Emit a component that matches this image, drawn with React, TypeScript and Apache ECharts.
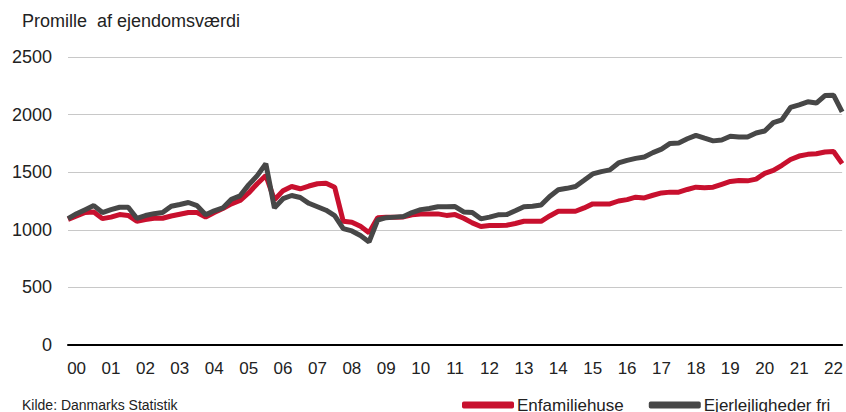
import React, { useEffect, useRef } from "react";
import * as echarts from "echarts";

const years = Array.from({ length: 23 }, (_, k) => String(k).padStart(2, "0"));
const quarters: string[] = [];
for (let y = 0; y < 23; y++) for (let q = 1; q <= 4; q++) quarters.push(`20${years[y]}K${q}`);
const categories = quarters.slice(0, 91);

const enfamiliehuse = [
  1090, 1120, 1150, 1155, 1097, 1110, 1132, 1125, 1074, 1089, 1100, 1100, 1120, 1135, 1150, 1150,
  1110, 1150, 1185, 1225, 1254, 1320, 1400, 1472, 1260, 1340, 1376, 1356, 1380, 1400, 1405, 1370,
  1074, 1066, 1030, 975, 1105, 1110, 1110, 1112, 1130, 1138, 1138, 1138, 1125, 1132, 1100, 1060,
  1028, 1037, 1037, 1040, 1055, 1074, 1074, 1074, 1120, 1161, 1161, 1161, 1190, 1225, 1225, 1225,
  1250, 1262, 1283, 1277, 1300, 1320, 1327, 1327, 1350, 1370, 1365, 1370, 1395, 1420, 1428, 1425,
  1440, 1490, 1516, 1560, 1610, 1640, 1655, 1660, 1675, 1680, 1574,
];

const ejerlejligheder = [
  1097, 1140, 1175, 1210, 1150, 1175, 1196, 1196, 1100, 1124, 1140, 1150, 1205, 1220, 1237, 1210,
  1130, 1165, 1190, 1265, 1295, 1390, 1470, 1574, 1190, 1270, 1298, 1280, 1230, 1200, 1170, 1124,
  1010, 990, 950, 895, 1085, 1105, 1110, 1115, 1150, 1175, 1185, 1200, 1200, 1202, 1155, 1150,
  1095, 1110, 1130, 1132, 1165, 1200, 1205, 1215, 1290, 1347, 1360, 1376, 1430, 1485, 1505, 1520,
  1580, 1603, 1620, 1632, 1670, 1700, 1750, 1754, 1790, 1820, 1795, 1772, 1780, 1812, 1805, 1805,
  1840, 1858, 1930, 1955, 2062, 2085, 2111, 2100, 2165, 2169, 2024,
];

const yTicks = [0, 500, 1000, 1500, 2000, 2500];

const FONT = "'Liberation Sans', Arial, sans-serif";
const RED = "#c8102e";
const GRAY = "#474747";

export default function App() {
  const ref = useRef<HTMLDivElement>(null);
  useEffect(() => {
    if (!ref.current) return;
    const chart = echarts.init(ref.current, null, { renderer: "svg" });
    chart.setOption({
      animation: false,
      backgroundColor: "#ffffff",
      textStyle: { fontFamily: FONT },
      grid: { left: 68, right: 0, top: 57, bottom: 67, containLabel: false },
      graphic: [
        {
          type: "text",
          left: 22,
          top: 12,
          style: {
            text: "Promille  af ejendomsværdi",
            fontFamily: FONT,
            fontSize: 18,
            fill: "#222",
          },
        },
        {
          type: "text",
          left: 22,
          top: 398,
          style: {
            text: "Kilde: Danmarks Statistik",
            fontFamily: FONT,
            fontSize: 14,
            fill: "#222",
          },
        },
      ],
      legend: {
        left: 462,
        top: 396,
        padding: 0,
        itemGap: 25,
        itemWidth: 52,
        itemHeight: 7,
        icon: "roundRect",
        textStyle: { fontSize: 17, lineHeight: 18, color: "#222", fontFamily: FONT, padding: [0, 0, 0, -2] },
        data: ["Enfamiliehuse", "Ejerlejligheder fri"],
      },
      xAxis: {
        type: "category",
        data: categories,
        boundaryGap: false,
        axisLine: { lineStyle: { color: "#000", width: 2 } },
        axisTick: { show: false },
        axisLabel: {
          interval: (index: number) => index % 4 === 1,
          formatter: (v: string) => v.slice(2, 4),
          fontSize: 17,
          color: "#222",
          fontFamily: FONT,
          margin: 15,
        },
        splitLine: { show: false },
      },
      yAxis: {
        type: "value",
        min: yTicks[0],
        max: yTicks[yTicks.length - 1],
        interval: 500,
        axisLine: { show: false },
        axisTick: { show: false },
        axisLabel: {
          fontSize: 18,
          color: "#222",
          fontFamily: FONT,
          margin: 16,
          formatter: (v: number) => String(v),
        },
        splitLine: { lineStyle: { color: "#c8c8c8", width: 1 } },
      },
      series: [
        {
          name: "Enfamiliehuse",
          type: "line",
          data: enfamiliehuse,
          symbol: "none",
          lineStyle: { color: RED, width: 5 },
          itemStyle: { color: RED },
          z: 2,
        },
        {
          name: "Ejerlejligheder fri",
          type: "line",
          data: ejerlejligheder,
          symbol: "none",
          lineStyle: { color: GRAY, width: 5 },
          itemStyle: { color: GRAY },
          z: 3,
        },
      ],
    });
    return () => chart.dispose();
  }, []);
  return <div ref={ref} style={{ width: 846, height: 412, position: "fixed", left: 0, top: 0 }} />;
}
